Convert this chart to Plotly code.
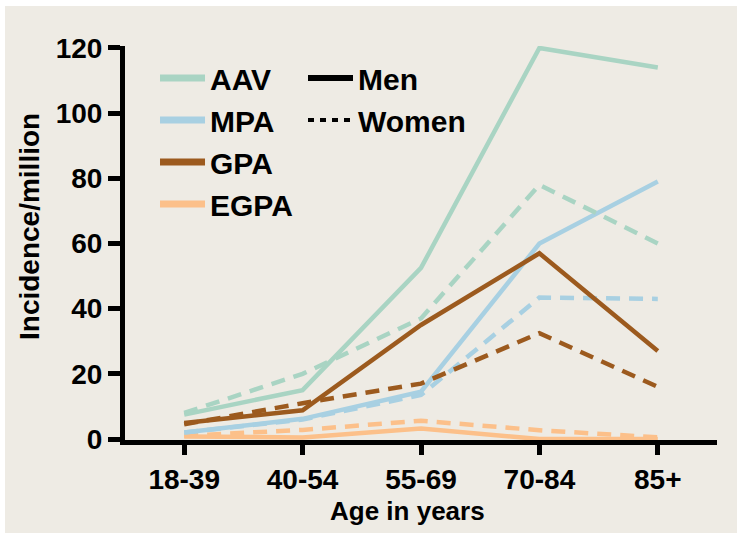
import plotly.graph_objects as go

ages = ["18-39", "40-54", "55-69", "70-84", "85+"]

aav_men = [7.5, 15, 52.5, 120, 114]
aav_women = [8, 20, 37, 78, 60]
mpa_men = [2, 6.2, 14.5, 60, 79]
mpa_women = [2, 6, 13.5, 43.4, 43]
gpa_men = [4.9, 8.8, 35, 57, 27]
gpa_women = [4.5, 11, 17, 32.5, 16]
egpa_men = [0.8, 0.5, 3.2, 0, 0]
egpa_women = [1, 2.8, 5.6, 2.7, 0.5]

diseases = ["AAV", "MPA", "GPA", "EGPA"]
colors = {"AAV": "#a9d4c3", "MPA": "#a8d0e2", "GPA": "#9c5a1e", "EGPA": "#fcc08a"}
men = {"AAV": aav_men, "MPA": mpa_men, "GPA": gpa_men, "EGPA": egpa_men}
women = {"AAV": aav_women, "MPA": mpa_women, "GPA": gpa_women, "EGPA": egpa_women}

FONT = "Liberation Sans, Arial, Helvetica, sans-serif"
BG = "#eeebe4"

W, H = 737, 533
L, R, T, B = 125, 20, 46, 93
PW, PH = W - L - R, H - T - B


def px_x(p):
    return (p - L) / PW


def px_y(p):
    return (H - B - p) / PH


fig = go.Figure()

for d in ["EGPA", "MPA", "AAV", "GPA"]:
    fig.add_trace(go.Scatter(x=ages, y=women[d], mode="lines", showlegend=False,
                             line=dict(color=colors[d], width=4.5, dash="14px,9px")))
    fig.add_trace(go.Scatter(x=ages, y=men[d], mode="lines", showlegend=False,
                             line=dict(color=colors[d], width=4.5)))

for d in diseases:
    fig.add_trace(go.Scatter(x=[None], y=[None], mode="lines", name=d, legendgroup=d,
                             line=dict(color=colors[d], width=7), legend="legend"))
fig.add_trace(go.Scatter(x=[None], y=[None], mode="lines", name="Men", legendgroup="m",
                         line=dict(color="black", width=6), legend="legend2"))
fig.add_trace(go.Scatter(x=[None], y=[None], mode="lines", name="Women", legendgroup="w",
                         line=dict(color="black", width=4, dash="6px,6px"), legend="legend2"))

tickfont = dict(family=FONT, size=28, color="black", weight="bold")
legfont = dict(family=FONT, size=30, color="black", weight="bold")

fig.update_layout(
    width=W, height=H,
    paper_bgcolor=BG, plot_bgcolor="rgba(0,0,0,0)",
    margin=dict(l=L, r=R, t=T, b=B),
    shapes=[
        dict(type="rect", xref="paper", yref="paper", x0=px_x(0), x1=px_x(W), y0=px_y(6), y1=px_y(0),
             fillcolor="white", line=dict(width=0), layer="below"),
        dict(type="rect", xref="paper", yref="paper", x0=px_x(0), x1=px_x(5), y0=px_y(H), y1=px_y(0),
             fillcolor="white", line=dict(width=0), layer="below"),
    ],
    annotations=[
        dict(text="Incidence/million", xref="paper", yref="paper", x=px_x(29), y=px_y(227),
             textangle=-90, showarrow=False, xanchor="center", yanchor="middle",
             font=dict(family=FONT, size=28, color="black", weight="bold")),
        dict(text="Age in years", xref="paper", yref="paper", x=px_x(407), y=px_y(511),
             showarrow=False, xanchor="center", yanchor="middle",
             font=dict(family=FONT, size=26, color="black", weight="bold")),
    ],
    xaxis=dict(type="category", range=[-0.5, 4.5], showline=True, linecolor="black",
               linewidth=5, ticks="outside", ticklen=10, tickwidth=5, tickcolor="black",
               showgrid=False, zeroline=False, tickfont=tickfont),
    yaxis=dict(range=[-0.3, 120.6], tickvals=[0, 20, 40, 60, 80, 100, 120], showline=True,
               linecolor="black", linewidth=5, ticks="outside", ticklen=12, tickwidth=5,
               tickcolor="black", showgrid=False, zeroline=False, tickfont=tickfont),
    legend=dict(x=0.0507, y=px_y(52), xanchor="left", yanchor="top", bgcolor="rgba(0,0,0,0)",
                font=legfont, tracegroupgap=0, itemwidth=45),
    legend2=dict(x=px_x(303), y=px_y(52), xanchor="left", yanchor="top", bgcolor="rgba(0,0,0,0)",
                 font=legfont, tracegroupgap=0, itemwidth=45),
)

fig.write_html("out.html")
